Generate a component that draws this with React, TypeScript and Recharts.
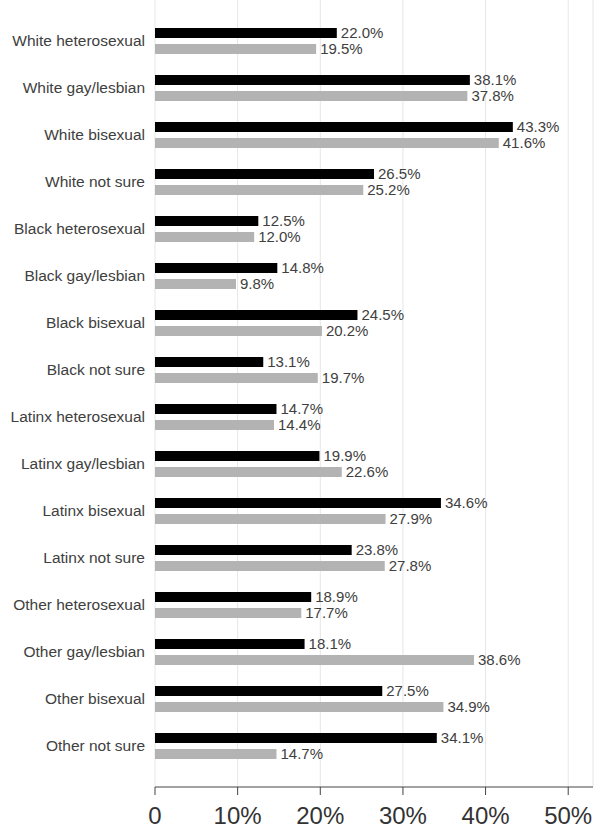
import { BarChart, Bar, XAxis, YAxis, CartesianGrid, LabelList } from "recharts";

const groups = [
  "White heterosexual", "White gay/lesbian", "White bisexual", "White not sure",
  "Black heterosexual", "Black gay/lesbian", "Black bisexual", "Black not sure",
  "Latinx heterosexual", "Latinx gay/lesbian", "Latinx bisexual", "Latinx not sure",
  "Other heterosexual", "Other gay/lesbian", "Other bisexual", "Other not sure",
];
const seriesA = [22.0, 38.1, 43.3, 26.5, 12.5, 14.8, 24.5, 13.1, 14.7, 19.9, 34.6, 23.8, 18.9, 18.1, 27.5, 34.1];
const seriesB = [19.5, 37.8, 41.6, 25.2, 12.0, 9.8, 20.2, 19.7, 14.4, 22.6, 27.9, 27.8, 17.7, 38.6, 34.9, 14.7];
const xTicks = [0, 10, 20, 30, 40, 50];

const data = groups.map((g, i) => ({ group: g, a: seriesA[i], b: seriesB[i] }));

const font = "'Liberation Sans', Arial, sans-serif";
const pct = (v: number) => `${Number(v).toFixed(1)}%`;

export default function App() {
  return (
    <div style={{ position: "absolute", left: 0, top: 0, background: "#fff", fontFamily: font }}>
      <BarChart
        width={609}
        height={832}
        data={data}
        layout="vertical"
        margin={{ top: 0, right: 16, left: 0, bottom: 0 }}
        barSize={10}
        barGap={6}
      >
        <CartesianGrid horizontal={false} stroke="#e6e6e6" />
        <XAxis
          type="number"
          domain={[0, 53]}
          ticks={xTicks}
          allowDataOverflow
          height={45}
          tickSize={8}
          tickMargin={12}
          stroke="#444"
          tick={{ fill: "#333", fontSize: 24, fontFamily: font }}
          tickFormatter={(v) => (v === 0 ? "0" : `${v}%`)}
        />
        <YAxis
          type="category"
          dataKey="group"
          width={155}
          axisLine={false}
          tickLine={false}
          tickSize={0}
          tickMargin={10}
          padding={{ top: 17, bottom: 18 }}
          interval={0}
          tick={{ fill: "#404040", fontSize: 15.5, fontFamily: font }}
        />
        <Bar dataKey="a" fill="#000" isAnimationActive={false}>
          <LabelList dataKey="a" position="right" offset={4} formatter={pct} fill="#404040" fontSize={15} fontFamily={font} />
        </Bar>
        <Bar dataKey="b" fill="#b3b3b3" isAnimationActive={false}>
          <LabelList dataKey="b" position="right" offset={4} formatter={pct} fill="#404040" fontSize={15} fontFamily={font} />
        </Bar>
      </BarChart>
    </div>
  );
}
